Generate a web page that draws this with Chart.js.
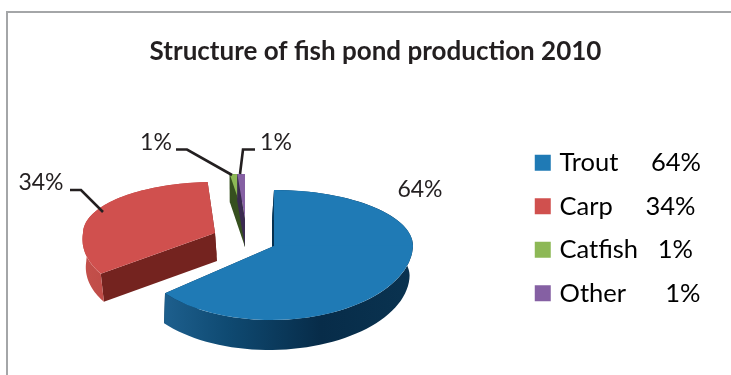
<!DOCTYPE html>
<html>
<head>
<meta charset="utf-8">
<style>
    html, body { margin: 0; padding: 0; background: #fff; overflow: hidden; }
    #frame { position: absolute; left: 6px; top: 11px; width: 725px; height: 364px; border-left: 2px solid #a4a6a8; border-top: 2px solid #a4a6a8; box-sizing: border-box; }
    canvas { position: absolute; left: 0; top: 0; }
</style>
<script src="https://cdn.jsdelivr.net/npm/chart.js@4/dist/chart.umd.min.js"></script>
</head>
<body>
<div id="frame"></div>
<canvas id="pond-chart" width="731" height="375"></canvas>
<script>
let categories = ['Trout', 'Carp', 'Catfish', 'Other'];
let shares = [64, 34, 1, 1];
let legendGaps = ['     ', '     ', '   ', '      '];

let topColors = ['#1f7ab5', '#d0504e', '#8db856', '#8560a3'];
let wallColors = ['#06304f', '#74231f', '#36501f', '#3a2a50'];
let rimStops = [
    ['#24699a', '#0f4a72', '#072c49', '#0a3350'],
    ['#c4504b', '#b2403c', '#a03633', '#8c2e2b'],
    ['#36501f', '#36501f', '#36501f', '#36501f'],
    ['#3a2a50', '#3a2a50', '#3a2a50', '#3a2a50']
];

// the whole pie and how each slice sits around it (fake 3d, chart.js has none)
const pieCenter = { x: 274, y: 246 };
const baseRadius = 139;
const sliceLook = [
    { dx: 0, dy: 0, rx: 139, up: 56, down: 74, depth: 30, twist: 0, lean: -2, shear: -0.04 },
    { dx: -59, dy: -13, rx: 132, up: 51, down: 70, depth: 28, twist: 4, lean: 2, shear: -0.17 },
    { dx: -29, dy: -27, rx: 122, up: 45, down: 45, depth: 28, twist: 0, lean: 0, shear: 0 },
    { dx: -29, dy: -27, rx: 122, up: 45, down: 45, depth: 28, twist: 0, lean: 0, shear: 0 }
];

// data label spots and their leader lines
const labelSpots = [
    { x: 420, y: 190, line: [] },
    { x: 41, y: 183, line: [[70, 190], [81, 190], [103, 212]] },
    { x: 156, y: 143, line: [[176, 149.5], [187, 149.5], [232, 175]] },
    { x: 276, y: 143, line: [[255, 149.5], [243, 149.5], [240, 174]] }
];

function rimPoint(look, apex, angle) {
    let a = angle + look.twist * Math.PI / 180;
    let s = Math.sin(a);
    let dy = s * (s < 0 ? look.up : look.down);
    return { x: apex.x + look.rx * Math.cos(a) + (s < 0 ? 0 : look.shear * dy), y: apex.y + dy };
}

function dropPoint(look, apex, p) {
    return { x: apex.x + (p.x - apex.x) * 0.99 + look.lean, y: p.y + look.depth };
}

function fillPath(ctx, points, fill) {
    ctx.beginPath();
    points.forEach(function (p, i) {
        if (i === 0) ctx.moveTo(p.x, p.y);
        else ctx.lineTo(p.x, p.y);
    });
    ctx.closePath();
    ctx.fillStyle = fill;
    ctx.fill();
}

function drawSides(ctx, arc, look, apex, index) {
    let wall = function (angle) {
        let p = rimPoint(look, apex, angle);
        fillPath(ctx, [apex, p, dropPoint(look, apex, p), dropPoint(look, apex, apex)], wallColors[index]);
    };
    wall(arc.endAngle);
    wall(arc.startAngle);

    let top = [];
    let steps = 80;
    for (let i = 0; i <= steps; i++) {
        top.push(rimPoint(look, apex, arc.startAngle + (arc.endAngle - arc.startAngle) * i / steps));
    }
    let bottom = top.map(function (p) { return dropPoint(look, apex, p); }).reverse();
    let grad = ctx.createLinearGradient(apex.x - look.rx, 0, apex.x + look.rx, 0);
    rimStops[index].forEach(function (c, i) { grad.addColorStop(i / 3, c); });
    fillPath(ctx, top.concat(bottom), grad);
}

function drawTop(ctx, chart, arc, look, apex) {
    // upper and lower half get their own squash, that gives the perspective look
    [[0, apex.y + 0.5, look.up, 0], [apex.y - 0.5, chart.height, look.down, look.shear]].forEach(function (part) {
        ctx.save();
        ctx.beginPath();
        ctx.rect(0, part[0], chart.width, part[1] - part[0]);
        ctx.clip();
        ctx.translate(apex.x, apex.y);
        ctx.transform(1, 0, part[3], 1, 0, 0);
        ctx.scale(look.rx / baseRadius, part[2] / baseRadius);
        ctx.rotate(look.twist * Math.PI / 180);
        ctx.translate(-arc.x, -arc.y);
        arc.draw(ctx);
        ctx.restore();
    });
}

const tiltedPie = {
    id: 'tiltedPie',
    beforeDatasetDraw: function (chart, args) {
        let ctx = chart.ctx;
        let arcs = args.meta.data;
        arcs.forEach(function (arc, i) {
            let look = sliceLook[i];
            let apex = { x: pieCenter.x + look.dx, y: pieCenter.y + look.dy };
            drawSides(ctx, arc, look, apex, i);
            drawTop(ctx, chart, arc, look, apex);
        });
        return false;
    },
    afterDraw: function (chart) {
        let ctx = chart.ctx;
        ctx.save();
        ctx.strokeStyle = '#231f20';
        ctx.lineWidth = 2.6;
        ctx.fillStyle = '#231f20';
        ctx.font = '23px Lato';
        ctx.textAlign = 'center';
        ctx.textBaseline = 'middle';
        labelSpots.forEach(function (spot, i) {
            ctx.fillText(shares[i] + '%', spot.x, spot.y);
            if (spot.line.length) {
                ctx.beginPath();
                spot.line.forEach(function (p, j) {
                    if (j === 0) ctx.moveTo(p[0], p[1]);
                    else ctx.lineTo(p[0], p[1]);
                });
                ctx.stroke();
            }
        });
        ctx.restore();
    }
};

let ctx = document.getElementById('pond-chart').getContext('2d');
let chart = new Chart(ctx, {
    type: 'pie',
    data: {
        labels: categories,
        datasets: [{
            data: shares,
            backgroundColor: topColors,
            borderWidth: 0
        }]
    },
    options: {
        responsive: false,
        animation: false,
        radius: baseRadius,
        layout: { padding: { left: 40, right: 20 } },
        plugins: {
            tooltip: { enabled: false },
            title: {
                display: true,
                text: 'Structure of fish pond production 2010',
                color: '#231f20',
                font: { family: 'Lato', size: 26, weight: 'bold' },
                padding: { top: 36, bottom: 14 }
            },
            legend: {
                position: 'right',
                fullSize: false,
                labels: {
                    color: '#231f20',
                    font: { family: 'Lato', size: 25.5 },
                    usePointStyle: true,
                    boxWidth: 8,
                    boxHeight: 16,
                    padding: 18,
                    generateLabels: function () {
                        return categories.map(function (name, i) {
                            return {
                                text: name + legendGaps[i] + shares[i] + '%',
                                fillStyle: topColors[i],
                                strokeStyle: topColors[i],
                                lineWidth: 0,
                                pointStyle: 'rect',
                                index: i
                            };
                        });
                    }
                }
            }
        }
    },
    plugins: [tiltedPie]
});
</script>
</body>
</html>
